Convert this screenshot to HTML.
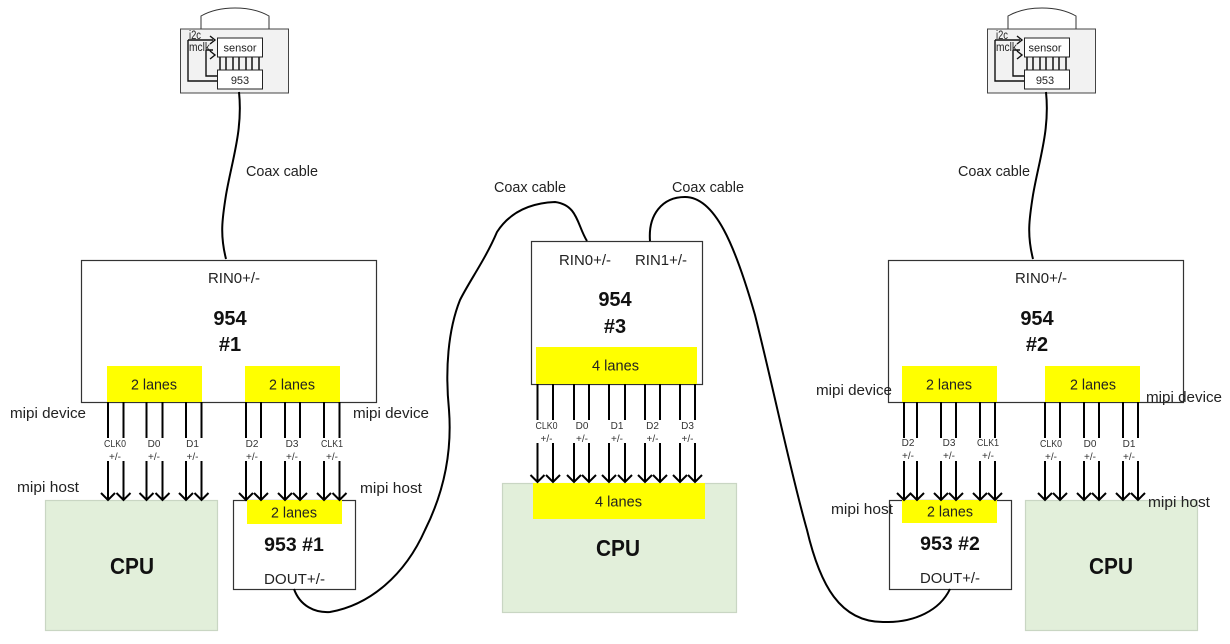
<!DOCTYPE html>
<html><head><meta charset="utf-8"><title>Diagram</title>
<style>
html,body{margin:0;padding:0;background:#fff;width:1230px;height:644px;overflow:hidden}
svg{display:block;filter:blur(.3px)}
text{font-family:"Liberation Sans",sans-serif;fill:#222;font-size:15px}
.b{font-weight:bold;font-size:20px;fill:#111;text-anchor:middle}
.m{text-anchor:middle}
.s{font-size:10px;text-anchor:middle;fill:#333}
.box{fill:#fff;stroke:#333;stroke-width:1.2}
.y{fill:#ffff00}
.cpu{fill:#e2efda;stroke:#c9d6c3;stroke-width:1.2}
.c{fill:none;stroke:#000;stroke-width:2}
.w{fill:none;stroke:#111;stroke-width:1.4}
.w2{fill:none;stroke:#333;stroke-width:1}
</style></head><body>
<svg width="1230" height="644" viewBox="0 0 1230 644" xmlns="http://www.w3.org/2000/svg">
<defs>
<g id="a"><path d="M0 402V438M0 461V500M-7 493L0 500L7 493" fill="none" stroke="#000" stroke-width="2"/></g>
</defs>

<!-- camera left -->
<g>
<path class="w2" d="M201 29V16Q215 8 235 8T269 16V29"/>
<rect x="180.500" y="29" width="108" height="64" fill="#f2f2f2" stroke="#444"/>
<path class="w" d="M188 40V81H217M206 50V76H217M188 40H213M206 50H213M210 36L215 40L210 44M210 51L215 55L210 59"/>
<path d="M220 57V70M226 57V70M233 57V70M239 57V70M246 57V70M252 57V70M259 57V70" stroke="#111" stroke-width="1.5"/>
<rect x="217.500" y="38" width="45" height="19" fill="#fff" stroke="#222"/>
<rect x="217.500" y="70" width="45" height="19" fill="#fff" stroke="#222"/>
<text x="240" y="51.500" class="m" style="font-size:11px">sensor</text>
<text x="240" y="84" class="m" style="font-size:11px">953</text>
<text x="189" y="39" style="font-size:11.500px" textLength="12" lengthAdjust="spacingAndGlyphs">i2c</text>
<text x="189" y="51" style="font-size:11.500px" textLength="21" lengthAdjust="spacingAndGlyphs">mclk</text>
</g>
<!-- camera right -->
<g transform="translate(807,0)">
<path class="w2" d="M201 29V16Q215 8 235 8T269 16V29"/>
<rect x="180.500" y="29" width="108" height="64" fill="#f2f2f2" stroke="#444"/>
<path class="w" d="M188 40V81H217M206 50V76H217M188 40H213M206 50H213M210 36L215 40L210 44M210 51L215 55L210 59"/>
<path d="M220 57V70M226 57V70M233 57V70M239 57V70M246 57V70M252 57V70M259 57V70" stroke="#111" stroke-width="1.5"/>
<rect x="217.500" y="38" width="45" height="19" fill="#fff" stroke="#222"/>
<rect x="217.500" y="70" width="45" height="19" fill="#fff" stroke="#222"/>
<text x="238" y="51.500" class="m" style="font-size:11px">sensor</text>
<text x="238" y="84" class="m" style="font-size:11px">953</text>
<text x="189" y="39" style="font-size:11.500px" textLength="12" lengthAdjust="spacingAndGlyphs">i2c</text>
<text x="189" y="51" style="font-size:11.500px" textLength="21" lengthAdjust="spacingAndGlyphs">mclk</text>
</g>

<!-- boxes -->
<rect class="box" x="81.500" y="260.500" width="295" height="142"/>
<rect class="box" x="531.500" y="241.500" width="171" height="143"/>
<rect class="box" x="888.500" y="260.500" width="295" height="142"/>
<rect class="cpu" x="45.500" y="500.500" width="172" height="130"/>
<rect class="cpu" x="502.500" y="483.500" width="234" height="129"/>
<rect class="cpu" x="1025.500" y="500.500" width="172" height="130"/>
<rect class="box" x="233.500" y="500.500" width="122" height="89"/>
<rect class="box" x="889.500" y="500.500" width="122" height="89"/>

<!-- yellow -->
<rect class="y" x="107" y="366" width="95" height="36"/>
<rect class="y" x="245" y="366" width="95" height="36"/>
<rect class="y" x="536" y="347" width="161" height="37"/>
<rect class="y" x="902" y="366" width="95" height="36"/>
<rect class="y" x="1045" y="366" width="95" height="36"/>
<rect class="y" x="247" y="500" width="95" height="24"/>
<rect class="y" x="902" y="500" width="95" height="23"/>
<rect class="y" x="533" y="483" width="172" height="36"/>

<!-- cables -->
<path class="c" d="M239 92C243 130 232 160 226 195C222 220 220 235 226 259"/>
<path class="c" d="M1046 92C1050 130 1039 160 1033 195C1029 220 1027 235 1033 259"/>
<path class="c" d="M294 589C300 606 315 613 330 612C370 605 405 575 425 530C445 490 452 450 449 410C445 370 448 330 460 300C470 280 485 260 497 232C510 212 530 203 555 202C578 205 577 225 587 241"/>
<path class="c" d="M650 241C648 215 662 197 685 197C715 197 735 245 755 315C775 395 790 470 807 530C820 585 840 622 883 622C915 623 940 610 950 589"/>

<!-- arrows left -->
<use href="#a" x="108"/><use href="#a" x="123.500"/><use href="#a" x="146.500"/><use href="#a" x="162.500"/><use href="#a" x="186"/><use href="#a" x="201.500"/>
<use href="#a" x="246"/><use href="#a" x="261"/><use href="#a" x="285"/><use href="#a" x="300"/><use href="#a" x="324"/><use href="#a" x="339.500"/>
<!-- arrows center -->
<use href="#a" x="537.500" y="-18"/><use href="#a" x="553" y="-18"/><use href="#a" x="574" y="-18"/><use href="#a" x="589" y="-18"/><use href="#a" x="609" y="-18"/><use href="#a" x="625" y="-18"/><use href="#a" x="645" y="-18"/><use href="#a" x="660" y="-18"/><use href="#a" x="680" y="-18"/><use href="#a" x="695" y="-18"/>
<!-- arrows right -->
<use href="#a" x="904"/><use href="#a" x="917"/><use href="#a" x="941"/><use href="#a" x="956"/><use href="#a" x="980"/><use href="#a" x="995"/>
<use href="#a" x="1045"/><use href="#a" x="1060"/><use href="#a" x="1084"/><use href="#a" x="1099"/><use href="#a" x="1123"/><use href="#a" x="1138"/>

<!-- labels -->
<text x="246" y="176" textLength="72" lengthAdjust="spacingAndGlyphs">Coax cable</text>
<text x="494" y="192" textLength="72" lengthAdjust="spacingAndGlyphs">Coax cable</text>
<text x="672" y="192" textLength="72" lengthAdjust="spacingAndGlyphs">Coax cable</text>
<text x="958" y="176" textLength="72" lengthAdjust="spacingAndGlyphs">Coax cable</text>

<text x="208" y="283" textLength="52" lengthAdjust="spacingAndGlyphs">RIN0+/-</text>
<text x="559" y="265" textLength="52" lengthAdjust="spacingAndGlyphs">RIN0+/-</text>
<text x="635" y="265" textLength="52" lengthAdjust="spacingAndGlyphs">RIN1+/-</text>
<text x="1015" y="283" textLength="52" lengthAdjust="spacingAndGlyphs">RIN0+/-</text>

<text class="b" x="230" y="325">954</text><text class="b" x="230" y="351">#1</text>
<text class="b" x="615" y="306">954</text><text class="b" x="615" y="333">#3</text>
<text class="b" x="1037" y="325">954</text><text class="b" x="1037" y="351">#2</text>

<text x="131" y="389.500" textLength="46" lengthAdjust="spacingAndGlyphs">2 lanes</text>
<text x="269" y="389.500" textLength="46" lengthAdjust="spacingAndGlyphs">2 lanes</text>
<text x="592" y="370.500" textLength="47" lengthAdjust="spacingAndGlyphs">4 lanes</text>
<text x="926" y="389.500" textLength="46" lengthAdjust="spacingAndGlyphs">2 lanes</text>
<text x="1070" y="389.500" textLength="46" lengthAdjust="spacingAndGlyphs">2 lanes</text>
<text x="271" y="517.500" textLength="46" lengthAdjust="spacingAndGlyphs">2 lanes</text>
<text x="927" y="516.500" textLength="46" lengthAdjust="spacingAndGlyphs">2 lanes</text>
<text x="595" y="506.500" textLength="47" lengthAdjust="spacingAndGlyphs">4 lanes</text>

<text x="10" y="418" textLength="76" lengthAdjust="spacingAndGlyphs">mipi device</text>
<text x="353" y="418" textLength="76" lengthAdjust="spacingAndGlyphs">mipi device</text>
<text x="816" y="395" textLength="76" lengthAdjust="spacingAndGlyphs">mipi device</text>
<text x="1146" y="402" textLength="76" lengthAdjust="spacingAndGlyphs">mipi device</text>
<text x="17" y="492" textLength="62" lengthAdjust="spacingAndGlyphs">mipi host</text>
<text x="360" y="493" textLength="62" lengthAdjust="spacingAndGlyphs">mipi host</text>
<text x="831" y="514" textLength="62" lengthAdjust="spacingAndGlyphs">mipi host</text>
<text x="1148" y="507" textLength="62" lengthAdjust="spacingAndGlyphs">mipi host</text>

<text class="b" x="294" y="551" style="font-size:19.500px">953 #1</text>
<text class="b" x="950" y="550" style="font-size:19.500px">953 #2</text>
<text x="264" y="584" textLength="61" lengthAdjust="spacingAndGlyphs">DOUT+/-</text>
<text x="920" y="583" textLength="60" lengthAdjust="spacingAndGlyphs">DOUT+/-</text>

<text class="b" x="132" y="574" style="font-size:23px" textLength="44" lengthAdjust="spacingAndGlyphs">CPU</text>
<text class="b" x="618" y="556" style="font-size:23px" textLength="44" lengthAdjust="spacingAndGlyphs">CPU</text>
<text class="b" x="1111" y="574" style="font-size:23px" textLength="44" lengthAdjust="spacingAndGlyphs">CPU</text>

<!-- small labels left -->
<text class="s" x="115" y="447" textLength="22" lengthAdjust="spacingAndGlyphs">CLK0</text><text class="s" x="115" y="460">+/-</text>
<text class="s" x="154" y="447">D0</text><text class="s" x="154" y="460">+/-</text>
<text class="s" x="192.500" y="447">D1</text><text class="s" x="192.500" y="460">+/-</text>
<text class="s" x="252" y="447">D2</text><text class="s" x="252" y="460">+/-</text>
<text class="s" x="292" y="447">D3</text><text class="s" x="292" y="460">+/-</text>
<text class="s" x="332" y="447" textLength="22" lengthAdjust="spacingAndGlyphs">CLK1</text><text class="s" x="332" y="460">+/-</text>
<!-- small labels center -->
<text class="s" x="546.500" y="429" textLength="22" lengthAdjust="spacingAndGlyphs">CLK0</text><text class="s" x="546.500" y="442">+/-</text>
<text class="s" x="582" y="429">D0</text><text class="s" x="582" y="442">+/-</text>
<text class="s" x="617" y="429">D1</text><text class="s" x="617" y="442">+/-</text>
<text class="s" x="652.500" y="429">D2</text><text class="s" x="652.500" y="442">+/-</text>
<text class="s" x="687.500" y="429">D3</text><text class="s" x="687.500" y="442">+/-</text>
<!-- small labels right -->
<text class="s" x="908" y="446">D2</text><text class="s" x="908" y="459">+/-</text>
<text class="s" x="949" y="446">D3</text><text class="s" x="949" y="459">+/-</text>
<text class="s" x="988" y="446" textLength="22" lengthAdjust="spacingAndGlyphs">CLK1</text><text class="s" x="988" y="459">+/-</text>
<text class="s" x="1051" y="447" textLength="22" lengthAdjust="spacingAndGlyphs">CLK0</text><text class="s" x="1051" y="460">+/-</text>
<text class="s" x="1090" y="447">D0</text><text class="s" x="1090" y="460">+/-</text>
<text class="s" x="1129" y="447">D1</text><text class="s" x="1129" y="460">+/-</text>
</svg>
</body></html>
